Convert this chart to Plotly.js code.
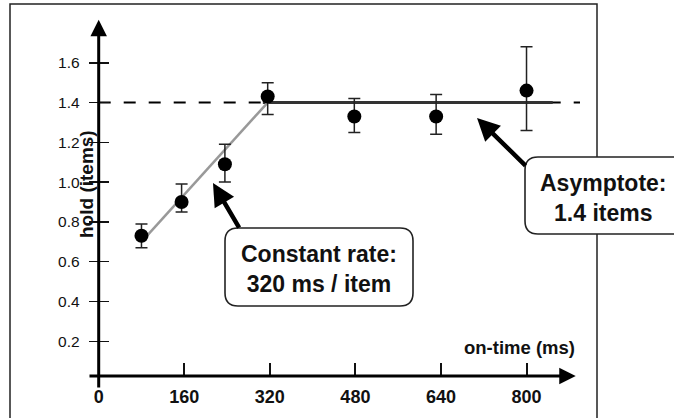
<!DOCTYPE html>
<html><head><meta charset="utf-8">
<script src="https://cdn.plot.ly/plotly-3.0.1.min.js"></script>
<style>html,body{margin:0;padding:0;background:#fff}#chart{width:674px;height:418px}</style>
</head><body><div id="chart"></div>
<script>
// data
const onTime = [80, 155, 236, 316, 478, 631, 800];
const hold = [0.73, 0.90, 1.09, 1.43, 1.33, 1.33, 1.46];
const errUp = [0.06, 0.09, 0.10, 0.07, 0.09, 0.11, 0.22];
const errDown = [0.06, 0.05, 0.09, 0.09, 0.08, 0.09, 0.20];
const rampX = [80, 316];
const rampY = [0.70, 1.40];
const asymX = [307, 849];
const asymY = [1.4, 1.4];
const refX = [0, 925];
const refY = [1.4, 1.4];
const xTicks = [0, 160, 320, 480, 640, 800];
const xTickText = ['0', '160', '320', '480', '640', '800'];
const yTicks = [0.2, 0.4, 0.6, 0.8, 1.0, 1.2, 1.4, 1.6];
const yTickText = ['0.2', '0.4', '0.6', '0.8', '1.0', '1.2', '1.4', '1.6'];
const xTitle = 'on-time (ms)';
const yTitle = 'hold (items)';
const noteRate = 'Constant rate:<br>320 ms / item';
const noteAsym = 'Asymptote:<br>1.4 items';

const FONT = 'Liberation Sans, Arial, Helvetica, sans-serif';
const XMIN = -20, XMAX = 900, YMIN = -0.04, YMAX = 1.83;
const yAxisPos = (0 - XMIN) / (XMAX - XMIN);

function rbox(x0, y0, x1, y1, rx, ry) {
  return `M ${x0+rx},${y1} L ${x1-rx},${y1} Q ${x1},${y1} ${x1},${y1-ry} L ${x1},${y0+ry} Q ${x1},${y0} ${x1-rx},${y0} L ${x0+rx},${y0} Q ${x0},${y0} ${x0},${y0+ry} L ${x0},${y1-ry} Q ${x0},${y1} ${x0+rx},${y1} Z`;
}
const RX = 13 / 492, RY = 13 / 372;

const traces = [
  {x: refX, y: refY, mode: 'lines', line: {color: '#000', width: 2, dash: '12px,13px'}, hoverinfo: 'skip'},
  {x: asymX, y: asymY, mode: 'lines', line: {color: '#333', width: 3}, hoverinfo: 'skip'},
  {x: rampX, y: rampY, mode: 'lines', line: {color: '#999', width: 2.5}, hoverinfo: 'skip'},
  {x: onTime, y: hold, mode: 'markers',
   marker: {color: '#000', size: 14},
   error_y: {type: 'data', symmetric: false, array: errUp, arrayminus: errDown, color: '#222', thickness: 1.5, width: 6}},
  {x: refX, y: refY, yaxis: 'y2', mode: 'lines', opacity: 0, hoverinfo: 'skip'}
];

const layout = {
  width: 674, height: 418,
  margin: {l: 88, r: 94, t: 17, b: 29},
  paper_bgcolor: '#fff', plot_bgcolor: '#fff',
  showlegend: false,
  font: {family: FONT, color: '#111'},
  xaxis: {
    range: [XMIN, XMAX], tickvals: xTicks, ticktext: xTickText,
    ticks: 'inside', ticklen: 13, tickwidth: 2, tickcolor: '#111',
    showline: false, showgrid: false, zeroline: false,
    anchor: 'free', position: 0.035, ticklabelstandoff: 8,
    tickfont: {family: FONT, size: 18, color: '#111', weight: 'bold'}
  },
  yaxis: {
    range: [YMIN, YMAX], tickvals: yTicks, ticktext: yTickText,
    ticks: 'outside', ticklen: 10, tickwidth: 1.5, tickcolor: '#111',
    showline: false, showgrid: false, zeroline: false,
    anchor: 'free', position: yAxisPos, ticklabelstandoff: 6,
    tickfont: {family: FONT, size: 15.5, color: '#111'}
  },
  yaxis2: {
    overlaying: 'y', range: [YMIN, YMAX], tickvals: yTicks,
    ticks: 'inside', ticklen: 9, tickwidth: 1.5, tickcolor: '#111',
    showticklabels: false, showline: false, showgrid: false, zeroline: false,
    anchor: 'free', position: yAxisPos
  },
  shapes: [
    {type: 'rect', xref: 'paper', yref: 'paper', x0: (10-88)/492, x1: (597-88)/492, y0: -0.2, y1: (389-4)/372,
     line: {color: '#222', width: 1.5}, fillcolor: 'rgba(0,0,0,0)', layer: 'below'},
    {type: 'path', xref: 'paper', yref: 'paper', layer: 'above',
     path: rbox((225-88)/492, (389-306)/372, (413-88)/492, (389-228)/372, RX, RY),
     line: {color: '#222', width: 1.6}, fillcolor: '#fff'},
    {type: 'path', xref: 'paper', yref: 'paper', layer: 'above',
     path: rbox((525-88)/492, (389-234)/372, (690-88)/492, (389-157)/372, RX, RY),
     line: {color: '#222', width: 1.6}, fillcolor: '#fff'}
  ],
  annotations: [
    // y axis with arrow
    {x: 0, y: 1.816, xref: 'x', yref: 'y', ax: 0, ay: YMIN, axref: 'x', ayref: 'y',
     text: '', showarrow: true, arrowhead: 2, arrowsize: 1.1, arrowwidth: 3, arrowcolor: '#000'},
    // x axis with arrow
    {x: 892, y: 0.0253, xref: 'x', yref: 'y', ax: XMIN, ay: 0.0253, axref: 'x', ayref: 'y',
     text: '', showarrow: true, arrowhead: 2, arrowsize: 1.1, arrowwidth: 3, arrowcolor: '#000'},
    // callout arrows
    {x: 213.7, y: 0.995, xref: 'x', yref: 'y', ax: 27, ay: 46,
     text: '', showarrow: true, arrowhead: 2, arrowsize: 1, arrowwidth: 4.5, arrowcolor: '#000'},
    {x: 707.4, y: 1.322, xref: 'x', yref: 'y', ax: 50, ay: 49,
     text: '', showarrow: true, arrowhead: 2, arrowsize: 1, arrowwidth: 4.5, arrowcolor: '#000'},
    // box texts
    {x: (319-88)/492, y: (389-269)/372, xref: 'paper', yref: 'paper', showarrow: false,
     xanchor: 'center', yanchor: 'middle',
     text: noteRate, align: 'center', font: {family: FONT, size: 23, color: '#111', weight: 'bold'}},
    {x: (603.5-88)/492, y: (389-197.5)/372, xref: 'paper', yref: 'paper', showarrow: false,
     xanchor: 'center', yanchor: 'middle',
     text: noteAsym, align: 'center', font: {family: FONT, size: 23, color: '#111', weight: 'bold'}},
    // axis titles
    {x: (519-88)/492, y: (389-347)/372, xref: 'paper', yref: 'paper', showarrow: false,
     xanchor: 'center', yanchor: 'middle',
     text: xTitle, font: {family: FONT, size: 18.5, color: '#111', weight: 'bold'}},
    {x: (86-88)/492, y: (389-184)/372, xref: 'paper', yref: 'paper', showarrow: false, textangle: -90,
     xanchor: 'center', yanchor: 'middle',
     text: yTitle, font: {family: FONT, size: 19, color: '#111', weight: 'bold'}}
  ]
};

Plotly.newPlot('chart', traces, layout, {staticPlot: true, displayModeBar: false});
</script>
</body></html>
